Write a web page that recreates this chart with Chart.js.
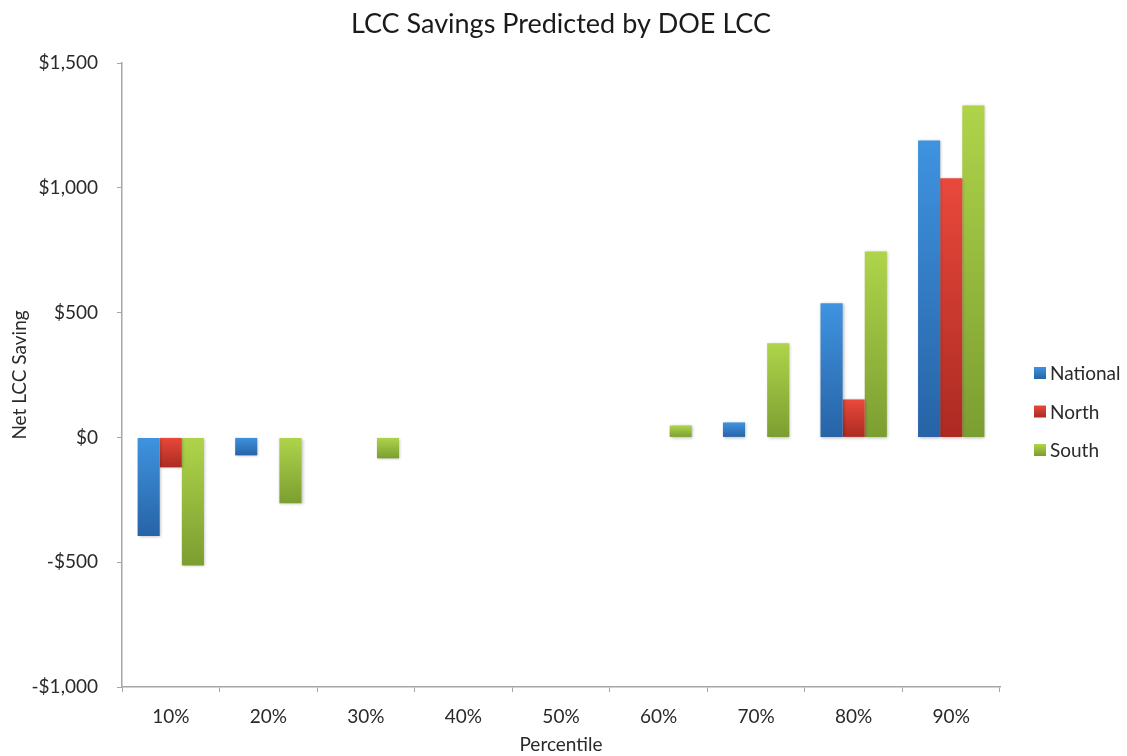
<!DOCTYPE html>
<html>
<head>
<meta charset="utf-8">
<script src="https://cdn.jsdelivr.net/npm/chart.js@4.4.0/dist/chart.umd.min.js"></script>
<style>
html,body{margin:0;padding:0;background:#fff;}
#wrap{width:1127px;height:756px;position:relative;}
</style>
</head>
<body>
<div id="wrap"><canvas id="c" width="1127" height="756"></canvas></div>
<script>
const categories = ['10%','20%','30%','40%','50%','60%','70%','80%','90%'];
const national = [-395, -72, -2, -2, -2, -2, 60, 537, 1190];
const north    = [-120, 0, -2, -2, -2, -2, 0, 152, 1038];
const south    = [-513, -264, -84, -2, -2, 48, 377, 745, 1330];
const seriesNames = ['National','North','South'];
const yTicks = [-1000, -500, 0, 500, 1000, 1500];
const chartTitle = 'LCC Savings Predicted by DOE LCC';

const palettes = [
  ['#3f93e0', '#2763a6'],
  ['#e9493b', '#ac2a22'],
  ['#afd44a', '#7b9e31']
];

function gradFor(idx){
  return function(ctx){
    const chart = ctx.chart;
    const area = chart.chartArea;
    if(!area || ctx.type !== 'data') return palettes[idx][0];
    const ys = chart.scales.y;
    const v = ctx.raw;
    const p0 = ys.getPixelForValue(0), p1 = ys.getPixelForValue(v);
    const top = Math.min(p0,p1), bot = Math.max(p0,p1);
    if (bot - top < 1) return 'rgba(190,190,190,0.6)';
    const g = chart.ctx.createLinearGradient(0, top, 0, bot);
    g.addColorStop(0, palettes[idx][0]);
    g.addColorStop(1, palettes[idx][1]);
    return g;
  };
}

const fontFam = 'Lato, "Open Sans", sans-serif';
const textColor = '#2a2a2a';

const shadowPlugin = {
  id: 'shadow',
  beforeDatasetsDraw(chart){
    const c = chart.ctx; c.save();
    c.shadowColor = 'rgba(0,0,0,0.28)';
    c.shadowBlur = 3; c.shadowOffsetX = 1; c.shadowOffsetY = 1;
  },
  afterDatasetsDraw(chart){ chart.ctx.restore(); }
};

const titlePlugin = {
  id: 'centeredTitle',
  afterDraw(chart){
    const c = chart.ctx, a = chart.chartArea;
    c.save();
    c.fillStyle = '#1a1a1a';
    c.font = '27px ' + fontFam;
    c.textAlign = 'center';
    c.textBaseline = 'middle';
    c.fillText(chartTitle, (a.left + a.right) / 2, 24);
    c.restore();
  }
};

const legendPlugin = {
  id: 'customLegend',
  afterDraw(chart){
    const c = chart.ctx;
    c.save();
    const x = 1034, y0 = 373, step = 38.5;
    chart.data.datasets.forEach((ds, i) => {
      const y = y0 + i*step;
      const g = c.createLinearGradient(0, y-6, 0, y+6);
      g.addColorStop(0, palettes[i][0]); g.addColorStop(1, palettes[i][1]);
      c.fillStyle = g;
      c.fillRect(x, y-6, 12, 12);
      c.fillStyle = textColor;
      c.font = '19px ' + fontFam;
      c.textBaseline = 'middle';
      c.textAlign = 'left';
      c.fillText(ds.label, x + 16, y + 1);
    });
    c.restore();
  }
};

new Chart(document.getElementById('c'), {
  type: 'bar',
  data: {
    labels: categories,
    datasets: [
      {label: seriesNames[0], data: national, backgroundColor: gradFor(0)},
      {label: seriesNames[1], data: north, backgroundColor: gradFor(1)},
      {label: seriesNames[2], data: south, backgroundColor: gradFor(2)}
    ]
  },
  options: {
    responsive: false,
    animation: false,
    devicePixelRatio: 1,
    layout: {padding: {left: 0, right: 127, top: 63, bottom: 0}},
    datasets: {bar: {categoryPercentage: 0.68, barPercentage: 1.0}},
    plugins: {
      legend: {display: false},
      tooltip: {enabled: false},
      title: {display: false}
    },
    scales: {
      x: {
        grid: {display: true, drawOnChartArea: false, drawTicks: true, tickLength: 5, color: '#a6a6a6', offset: true},
        border: {display: true, color: '#a6a6a6', width: 1.5},
        ticks: {color: textColor, font: {family: fontFam, size: 19}, padding: 13, maxRotation: 0},
        title: {display: true, text: 'Percentile', color: textColor, font: {family: fontFam, size: 19}, padding: {top: 0, bottom: 0}},
        afterFit(scale){ scale.height = 69; }
      },
      y: {
        min: -1000, max: 1500,
        afterBuildTicks(scale){ scale.ticks = yTicks.map(v => ({value: v})); },
        grid: {display: true, drawOnChartArea: false, drawTicks: true, tickLength: 5, color: '#a6a6a6'},
        border: {display: true, color: '#a6a6a6', width: 1.5},
        ticks: {
          color: textColor, font: {family: fontFam, size: 19}, padding: 19,
          callback: v => (v < 0 ? '-$' : '$') + Math.abs(v).toLocaleString('en-US')
        },
        title: {display: true, text: 'Net LCC Saving', color: textColor, font: {family: fontFam, size: 19}, padding: {top: 8.5, bottom: 0}},
        afterFit(scale){ scale.width = 122; }
      }
    }
  },
  plugins: [shadowPlugin, titlePlugin, legendPlugin]
});
</script>
</body>
</html>
